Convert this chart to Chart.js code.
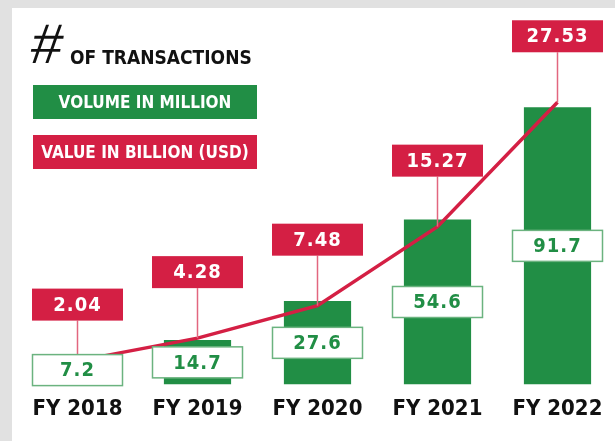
<!DOCTYPE html>
<html>
<head>
<meta charset="utf-8">
<script src="https://cdn.jsdelivr.net/npm/chart.js@4/dist/chart.umd.min.js"></script>
<style>
  html, body { margin: 0; padding: 0; overflow: hidden; width: 615px; height: 441px; background: #e1e1e1; }
  .panel { position: absolute; left: 12px; top: 8px; right: 0; bottom: 0; background: #fff; }
  .wrap { position: absolute; left: 0; top: 0; width: 640px; height: 441px; }
  .hash { position: absolute; left: 31px; top: 16px; font: italic 400 56px/56px 'Liberation Sans', sans-serif; color: #111;
          transform: skewX(-8deg); }
  .title { position: absolute; left: 70px; top: 48px; font: 700 19px/19px 'DejaVu Sans Condensed', 'DejaVu Sans', sans-serif; color: #111; white-space: nowrap; }
  .key { position: absolute; left: 33px; width: 224px; height: 34px; display: flex; align-items: center; justify-content: center;
         color: #fff; font: 700 17px/17px 'DejaVu Sans Condensed', 'DejaVu Sans', sans-serif; white-space: nowrap; }
</style>
</head>
<body>
<div class="panel"></div>
<div class="wrap"><canvas id="chart"></canvas></div>
<div class="hash">#</div>
<div class="title">OF TRANSACTIONS</div>
<div class="key" id="keyVolume" style="top:85px;background:#218e45">VOLUME IN MILLION</div>
<div class="key" id="keyValue" style="top:135px;background:#d41f44">VALUE IN BILLION (USD)</div>
<script>
const years = ["FY 2018", "FY 2019", "FY 2020", "FY 2021", "FY 2022"];
const volumeMillion = [7.2, 14.7, 27.6, 54.6, 91.7];
const valueBillion = [2.04, 4.28, 7.48, 15.27, 27.53];

const GREEN = '#218e45';
const RED = '#d41f44';
const FONT = "'DejaVu Sans Condensed', 'DejaVu Sans', sans-serif";

// boxes with the numbers, stems from the value boxes down to the line
const boxLabels = {
    id: 'boxLabels',
    afterDatasetsDraw(chart) {
        const ctx = chart.ctx;
        const lineMeta = chart.getDatasetMeta(0);
        const barMeta = chart.getDatasetMeta(1);
        const items = barMeta.data.map((bar, i) => {
            const pt = lineMeta.data[i];
            const gy = Math.min((bar.y + bar.base) / 2, bar.base - 14.5);
            const gTop = gy - 15.5;
            // if the line point is hidden behind the volume box, hang the value box off that box
            const rBottom = pt.y > gTop ? gTop - 34 : pt.y - 50;
            return { bar, pt, gy, rBottom };
        });
        ctx.save();
        // stems
        ctx.strokeStyle = '#e2667f';
        ctx.lineWidth = 1.5;
        items.forEach(it => {
            ctx.beginPath();
            ctx.moveTo(it.pt.x, it.rBottom);
            ctx.lineTo(it.pt.x, it.pt.y);
            ctx.stroke();
        });
        ctx.textAlign = 'center';
        ctx.textBaseline = 'middle';
        ctx.font = 'bold 20px ' + FONT;
        ctx.letterSpacing = '1px';
        // volume boxes
        items.forEach((it, i) => {
            const x = it.bar.x;
            ctx.fillStyle = '#fff';
            ctx.fillRect(x - 45, it.gy - 15.5, 90, 31);
            ctx.strokeStyle = '#6bb37f';
            ctx.lineWidth = 1.5;
            ctx.strokeRect(x - 45, it.gy - 15.5, 90, 31);
            ctx.fillStyle = GREEN;
            ctx.fillText(volumeMillion[i], x, it.gy + 1);
        });
        // value boxes
        items.forEach((it, i) => {
            const x = it.pt.x;
            ctx.fillStyle = RED;
            ctx.fillRect(x - 45.5, it.rBottom - 32, 91, 32);
            ctx.fillStyle = '#fff';
            ctx.fillText(valueBillion[i].toFixed(2), x, it.rBottom - 15);
        });
        ctx.restore();
    }
};

new Chart(document.getElementById('chart'), {
    type: 'bar',
    data: {
        labels: years,
        datasets: [{
            type: 'line',
            label: 'Value in billion (USD)',
            data: valueBillion,
            yAxisID: 'y1',
            borderColor: RED,
            borderWidth: 3.5,
            pointRadius: 0,
            tension: 0,
            clip: false,
            order: 0
        }, {
            type: 'bar',
            label: 'Volume in million',
            data: volumeMillion,
            yAxisID: 'y',
            backgroundColor: GREEN,
            categoryPercentage: 1,
            barPercentage: 0.56,
            order: 1
        }]
    },
    options: {
        responsive: true,
        maintainAspectRatio: false,
        animation: false,
        layout: { padding: { top: 20, left: 17.5, right: 22.5, bottom: 16 } },
        plugins: { legend: { display: false }, tooltip: { enabled: false } },
        scales: {
            x: {
                grid: { display: false },
                border: { display: false },
                ticks: { color: '#111', padding: 3, font: { family: FONT, size: 22, weight: 'bold' } }
            },
            y: { display: false, min: 0, max: 120.5 },
            y1: { display: false, min: -0.3, max: 35.64 }
        }
    },
    plugins: [boxLabels]
});
</script>
</body>
</html>
